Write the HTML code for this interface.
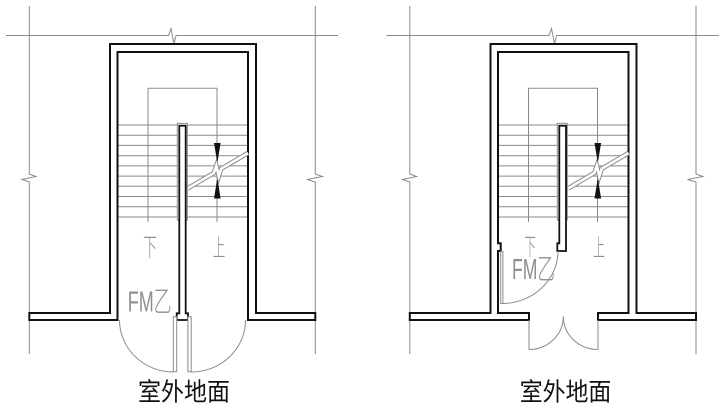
<!DOCTYPE html>
<html>
<head>
<meta charset="utf-8">
<style>
  html,body{margin:0;padding:0;background:#fff;}
  svg{display:block;}
  .g{fill:none;stroke:#8a8a8a;stroke-width:1;}
  .k{fill:#fff;stroke:#111;stroke-width:2;stroke-linejoin:miter;}
  .kw{fill:#fff;stroke:#111;stroke-width:1.8;}
  .t{fill:none;stroke:#8a8a8a;stroke-width:1;}
  .lbl{fill:#8f8f8f;font-family:"Liberation Sans","Noto Sans CJK SC",sans-serif;font-weight:300;}
  .cap{fill:#111;font-family:"Liberation Sans","Noto Sans CJK SC",sans-serif;}
</style>
</head>
<body>
<svg width="723" height="411" viewBox="0 0 723 411" xmlns="http://www.w3.org/2000/svg">
<rect width="723" height="411" fill="#fff"/>

<!-- ================= LEFT DIAGRAM ================= -->
<g>
  <!-- gray grid / break lines -->
  <polyline class="g" points="6,35.5 168.5,35.5 171,28.5 174,44 176,35.5 338,35.5"/>
  <polyline class="g" points="29.3,6 29.3,174 36,176.5 22,179.5 29.3,182 29.3,354"/>
  <polyline class="g" points="315.3,6 315.3,174 322.5,176.5 307,179.5 315.3,182 315.3,354"/>

  <!-- walls -->
  <path class="k" d="M110,313 L110,44 L256,44 L256,313 L315.3,313 L315.3,320 L248,320 L248,52 L117.5,52 L117.5,320 L29.3,320 L29.3,313 Z"/>

  <!-- treads -->
  <g class="t">
    <line x1="118.5" y1="125" x2="247" y2="125"/>
    <line x1="118.5" y1="135.2" x2="247" y2="135.2"/>
    <line x1="118.5" y1="145.4" x2="247" y2="145.4"/>
    <line x1="118.5" y1="155.7" x2="247" y2="155.7"/>
    <line x1="118.5" y1="165.9" x2="247" y2="165.9"/>
    <line x1="118.5" y1="176.1" x2="247" y2="176.1"/>
    <line x1="118.5" y1="186.3" x2="247" y2="186.3"/>
    <line x1="118.5" y1="196.5" x2="247" y2="196.5"/>
    <line x1="118.5" y1="206.8" x2="247" y2="206.8"/>
    <line x1="118.5" y1="217" x2="247" y2="217"/>
  </g>

  <!-- walking line -->
  <polyline class="g" points="148,222 148,88.3 217,88.3 217,222"/>

  <!-- break line -->
  <polyline fill="none" stroke="#8a8a8a" stroke-width="4.6" stroke-linejoin="miter" points="187.5,188.5 213.8,173 216.3,165.8 218.8,176.4 221.2,168.8 248,153"/>
  <polyline fill="none" stroke="#fff" stroke-width="2.6" stroke-linejoin="miter" points="187.5,188.5 213.8,173 216.3,165.8 218.8,176.4 221.2,168.8 248,153"/>

  <!-- arrows -->
  <polygon fill="#111" points="214,143 220.6,143 217.6,161 217,161"/>
  <polygon fill="#111" points="217,180 217.6,180 220.6,198.5 214,198.5"/>

  <!-- post -->
  <rect x="177.3" y="123.3" width="10" height="96.7" fill="#fff" stroke="#8a8a8a" stroke-width="1"/>
  <path class="kw" d="M179.3,125.7 L185.7,125.7 L185.7,313.3 L188,313.3 L188,320 L176.7,320 L176.7,313.3 L179.3,313.3 Z"/>

  <!-- doors -->
  <rect x="173.3" y="316.7" width="3.4" height="55" fill="#fff" stroke="#8a8a8a" stroke-width="1"/>
  <path class="g" d="M119.5,320 A54,52 0 0 0 173.3,372"/>
  <rect x="187.9" y="316.7" width="3.3" height="55" fill="#fff" stroke="#8a8a8a" stroke-width="1"/>
  <path class="g" d="M191.2,372 A54,52 0 0 0 245.5,320"/>

  <!-- labels -->
  <text class="lbl" x="127.7" y="311.5" font-size="29" textLength="44" lengthAdjust="spacingAndGlyphs">FM乙</text>
  <text class="lbl" x="143" y="256" font-size="25" textLength="14" lengthAdjust="spacingAndGlyphs">下</text>
  <text class="lbl" x="212.7" y="256" font-size="24" textLength="12.5" lengthAdjust="spacingAndGlyphs">上</text>
  <text class="cap" x="138" y="400.5" font-size="25" textLength="92" lengthAdjust="spacingAndGlyphs">室外地面</text>
</g>

<!-- ================= RIGHT DIAGRAM ================= -->
<g>
  <polyline class="g" points="386.5,35.5 549,35.5 551.5,28.5 554.5,44 556.5,35.5 719,35.5"/>
  <polyline class="g" points="409.8,6 409.8,174 416.5,176.5 402.5,179.5 409.8,182 409.8,354"/>
  <polyline class="g" points="696,6 696,174 703,176.5 687.5,179.5 696,182 696,354"/>

  <!-- walls -->
  <path class="k" d="M490.5,313 L490.5,44 L636.5,44 L636.5,313 L696,313 L696,320 L598,320 L598,313 L628.5,313 L628.5,52 L498,52 L498,243.3 L500.7,243.3 L500.7,251 L498,251 L498,313 L529,313 L529,320 L409.8,320 L409.8,313 Z"/>

  <!-- treads -->
  <g class="t">
    <line x1="499" y1="125" x2="627.5" y2="125"/>
    <line x1="499" y1="135.2" x2="627.5" y2="135.2"/>
    <line x1="499" y1="145.4" x2="627.5" y2="145.4"/>
    <line x1="499" y1="155.7" x2="627.5" y2="155.7"/>
    <line x1="499" y1="165.9" x2="627.5" y2="165.9"/>
    <line x1="499" y1="176.1" x2="627.5" y2="176.1"/>
    <line x1="499" y1="186.3" x2="627.5" y2="186.3"/>
    <line x1="499" y1="196.5" x2="627.5" y2="196.5"/>
    <line x1="499" y1="206.8" x2="627.5" y2="206.8"/>
    <line x1="499" y1="217" x2="627.5" y2="217"/>
  </g>

  <polyline class="g" points="528.5,222 528.5,88.3 597.5,88.3 597.5,222"/>

  <polyline fill="none" stroke="#8a8a8a" stroke-width="4.6" stroke-linejoin="miter" points="568,188.5 594.3,173 596.8,165.8 599.3,176.4 601.7,168.8 628.5,153"/>
  <polyline fill="none" stroke="#fff" stroke-width="2.6" stroke-linejoin="miter" points="568,188.5 594.3,173 596.8,165.8 599.3,176.4 601.7,168.8 628.5,153"/>

  <polygon fill="#111" points="594.5,143 601.1,143 598.1,161 597.5,161"/>
  <polygon fill="#111" points="597.5,180 598.1,180 601.1,198.5 594.5,198.5"/>

  <rect x="557.3" y="123.3" width="10" height="96.7" fill="#fff" stroke="#8a8a8a" stroke-width="1"/>
  <path class="kw" d="M559.3,125.7 L566,125.7 L566,251 L557.3,251 L557.3,243.3 L559.3,243.3 Z"/>

  <!-- inner side door -->
  <rect x="500.7" y="251.5" width="2.2" height="52" fill="#fff" stroke="#8a8a8a" stroke-width="1"/>
  <path class="g" d="M502,303.5 A56,52.5 0 0 0 558,251"/>

  <!-- outer double doors -->
  <line class="g" x1="529" y1="320" x2="529" y2="349.5" stroke-width="1.3"/>
  <line class="g" x1="598" y1="320" x2="598" y2="349.5" stroke-width="1.3"/>
  <path class="g" d="M529,349.5 A34.3,33 0 0 0 563.3,316.5"/>
  <path class="g" d="M598,349.5 A34.7,33 0 0 1 563.3,316.5"/>

  <!-- labels -->
  <text class="lbl" x="512" y="279" font-size="29" textLength="43" lengthAdjust="spacingAndGlyphs">FM乙</text>
  <text class="lbl" x="524.5" y="255" font-size="24" textLength="11.5" lengthAdjust="spacingAndGlyphs">下</text>
  <text class="lbl" x="593" y="256" font-size="24" textLength="12" lengthAdjust="spacingAndGlyphs">上</text>
  <text class="cap" x="519.7" y="400.5" font-size="25" textLength="91.6" lengthAdjust="spacingAndGlyphs">室外地面</text>
</g>
</svg>
</body>
</html>
